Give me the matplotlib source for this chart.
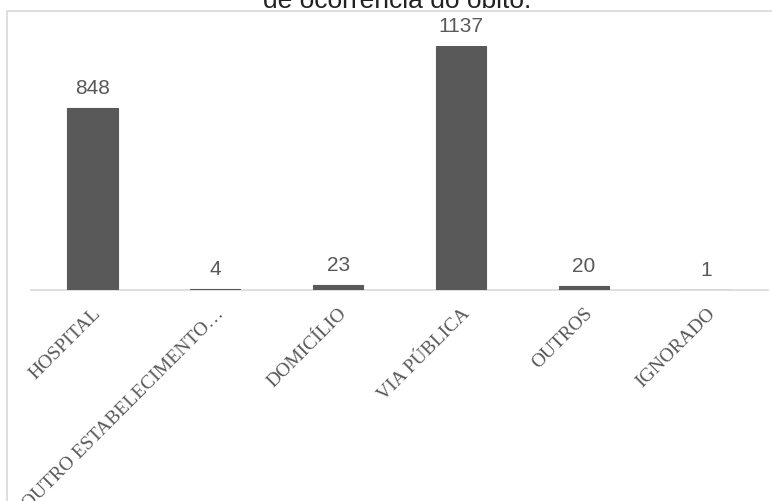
import matplotlib.pyplot as plt
from matplotlib.patches import Rectangle

# dados: local de ocorrencia do obito
categorias = ['HOSPITAL', 'OUTRO ESTABELECIMENTO…', 'DOMICÍLIO',
              'VIA PÚBLICA', 'OUTROS', 'IGNORADO']
obitos = [848, 4, 23, 1137, 20, 1]

cinza = '#595959'

fig = plt.figure(figsize=(7.72, 5.02), dpi=100)

# moldura do grafico (cortada na direita e embaixo)
fig.patches.append(Rectangle((7 / 772, -0.1), 1.0, 1 - 11.5 / 502 + 0.1,
                             transform=fig.transFigure, fill=False,
                             edgecolor='#d9d9d9', linewidth=1.2))

# titulo cortado no topo
fig.text(397 / 772, 1 - 8 / 502, 'de ocorrência do óbito.', ha='center',
         va='baseline', fontsize=19, family='Liberation Sans', color='#222222')

ax = fig.add_axes([31 / 772, 211 / 502, 737 / 772, 244.3 / 502])
x = range(len(categorias))
barras = ax.bar(x, obitos, width=0.41, color=cinza, edgecolor=cinza,
                linewidth=0.8, zorder=3)
ax.set_xlim(-0.5, len(categorias) - 0.5)
ax.set_ylim(0, 1137)

ax.bar_label(barras, padding=8, fontsize=15, color=cinza,
             family='Liberation Sans')

ax.set_xticks(list(x))
ax.set_xticklabels(categorias, rotation=45, ha='right', rotation_mode='anchor',
                   fontsize=14, family='Liberation Serif', color=cinza)
ax.tick_params(axis='x', length=0, pad=10)
ax.set_yticks([])
for lado in ['top', 'left', 'right']:
    ax.spines[lado].set_visible(False)
ax.spines['bottom'].set_color('#d9d9d9')
ax.spines['bottom'].set_linewidth(1.2)
ax.spines['bottom'].set_zorder(2)

fig.savefig('out.png', dpi=100)
